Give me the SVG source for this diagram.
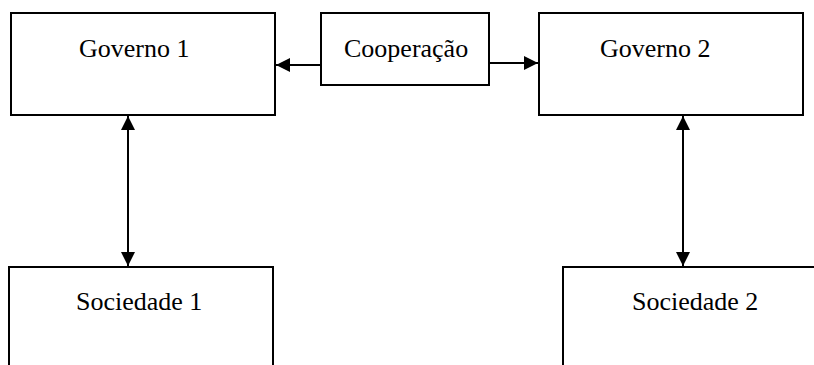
<svg xmlns="http://www.w3.org/2000/svg" width="814" height="365" viewBox="0 0 814 365">
<defs>
<marker id="ah" markerUnits="userSpaceOnUse" markerWidth="16" markerHeight="16" viewBox="0 0 16 16" refX="14" refY="8" orient="auto-start-reverse">
<path d="M0,1 L14,8 L0,15 Z" fill="#000"/>
</marker>
</defs>
<style>
.box{fill:#fff;stroke:#000;stroke-width:2}
.lbl{font-family:"Liberation Serif","Times New Roman",serif;font-size:26px;fill:#000}
.con{stroke:#000;stroke-width:2;fill:none}
</style>
<rect width="814" height="365" fill="#fff"/>
<g id="governo1"><rect class="box" x="11" y="13" width="264" height="102"/><text class="lbl" x="79" y="57">Governo 1</text></g>
<g id="cooperacao"><rect class="box" x="321" y="13" width="168" height="72"/><text class="lbl" x="344" y="57">Cooperação</text></g>
<g id="governo2"><rect class="box" x="539" y="13" width="264" height="102"/><text class="lbl" x="600" y="57">Governo 2</text></g>
<g id="sociedade1"><rect class="box" x="9" y="267" width="264" height="110"/><text class="lbl" x="76" y="310">Sociedade 1</text></g>
<g id="sociedade2"><rect class="box" x="563" y="267" width="270" height="110"/><text class="lbl" x="632" y="310">Sociedade 2</text></g>
<g id="connectors">
<line class="con" x1="321" y1="65" x2="276" y2="65" marker-end="url(#ah)"/>
<line class="con" x1="489" y1="63" x2="538" y2="63" marker-end="url(#ah)"/>
<line class="con" x1="128" y1="116" x2="128" y2="266" marker-start="url(#ah)" marker-end="url(#ah)"/>
<line class="con" x1="683" y1="116" x2="683" y2="266" marker-start="url(#ah)" marker-end="url(#ah)"/>
</g>
</svg>
